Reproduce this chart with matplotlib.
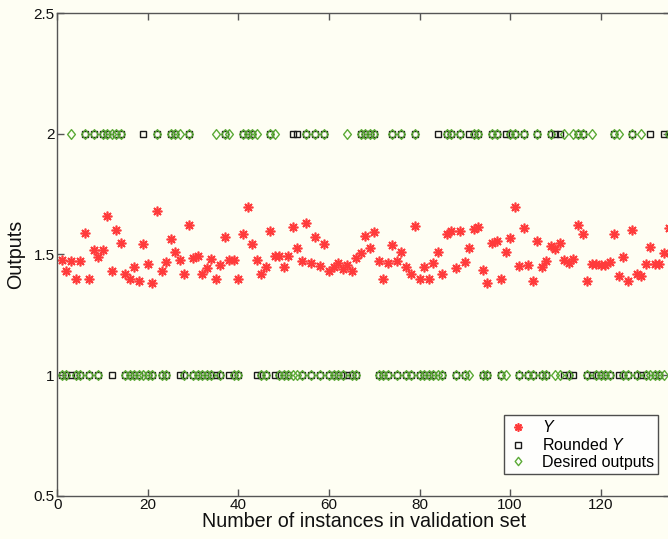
import numpy as np
import matplotlib
matplotlib.use("Agg")
import matplotlib.pyplot as plt
from matplotlib.path import Path

plt.rcParams['font.family'] = ['Liberation Sans', 'DejaVu Sans']
plt.rcParams['mathtext.fontset'] = 'custom'
plt.rcParams['mathtext.rm'] = 'Liberation Sans'
plt.rcParams['mathtext.it'] = 'Liberation Sans:italic'

# Network outputs for each validation instance (index 1..135)
y_out = [
    1.476, 1.43, 1.474, 1.40, 1.473, 1.588, 1.40, 1.52, 1.49, 1.519,
    1.66, 1.43, 1.60, 1.546, 1.42, 1.40, 1.45, 1.39, 1.544, 1.459,
    1.38, 1.68, 1.43, 1.469, 1.564, 1.512, 1.477, 1.42, 1.622, 1.485,
    1.495, 1.42, 1.445, 1.48, 1.40, 1.456, 1.572, 1.477, 1.477, 1.40,
    1.585, 1.698, 1.544, 1.477, 1.42, 1.448, 1.599, 1.495, 1.495, 1.447,
    1.495, 1.615, 1.526, 1.474, 1.632, 1.466, 1.574, 1.452, 1.542, 1.43,
    1.449, 1.466, 1.44, 1.457, 1.43, 1.487, 1.505, 1.577, 1.528, 1.592,
    1.474, 1.40, 1.466, 1.538, 1.474, 1.510, 1.447, 1.42, 1.618, 1.40,
    1.447, 1.40, 1.464, 1.51, 1.42, 1.585, 1.599, 1.443, 1.599, 1.468,
    1.526, 1.604, 1.615, 1.437, 1.38, 1.549, 1.557, 1.40, 1.509, 1.567,
    1.698, 1.452, 1.609, 1.457, 1.39, 1.557, 1.447, 1.474, 1.535, 1.522,
    1.546, 1.477, 1.464, 1.480, 1.621, 1.585, 1.39, 1.461, 1.461, 1.455,
    1.455, 1.47, 1.584, 1.41, 1.488, 1.39, 1.602, 1.42, 1.41, 1.461,
    1.530, 1.461, 1.461, 1.505, 1.609,
]

# Target class of each instance
desired = [
    1, 1, 2, 1, 1, 2, 1, 2, 1, 2,
    2, 2, 2, 2, 1, 1, 1, 1, 1, 1,
    1, 2, 1, 1, 2, 2, 2, 1, 2, 1,
    1, 1, 1, 1, 2, 1, 2, 2, 1, 1,
    2, 2, 2, 2, 1, 1, 2, 2, 1, 1,
    1, 1, 1, 1, 2, 1, 2, 1, 2, 1,
    1, 1, 1, 2, 1, 1, 2, 2, 2, 2,
    1, 1, 1, 2, 1, 2, 1, 1, 2, 1,
    1, 1, 1, 1, 1, 2, 2, 1, 2, 1,
    1, 2, 2, 1, 1, 2, 2, 1, 1, 2,
    2, 1, 2, 1, 1, 2, 1, 1, 2, 1,
    1, 2, 1, 2, 2, 2, 1, 2, 1, 1,
    1, 1, 2, 2, 1, 1, 2, 1, 2, 1,
    1, 1, 1, 1, 2,
]

idx = np.arange(1, len(y_out) + 1)
y_arr = np.array(y_out)
rounded = np.where(y_arr >= 1.5, 2, 1)

bg = '#FEFEF3'
fig = plt.figure(figsize=(6.68, 5.39), dpi=100, facecolor=bg)
# axes run slightly past the right edge of the canvas
ax = fig.add_axes([57.4 / 668, 43.3 / 539, 612.5 / 668, 482.4 / 539])
ax.set_facecolor(bg)

asterisk = (8, 2, 0)
# slightly tall open diamond
diamond = Path([(0, 1), (0.8, 0), (0, -1), (-0.8, 0), (0, 1)],
               [Path.MOVETO, Path.LINETO, Path.LINETO, Path.LINETO,
                Path.CLOSEPOLY])

ax.plot(idx, y_arr, linestyle='none', marker=asterisk, markersize=7.0,
        markeredgewidth=1.2, color='#FF3B3B', markeredgecolor='#FF3B3B',
        label='$Y$')
ax.plot(idx, rounded, linestyle='none', marker='s', markersize=4.6,
        markerfacecolor='none', markeredgecolor='#1a1a1a',
        markeredgewidth=1.0, label='Rounded $Y$')
ax.plot(idx, desired, linestyle='none', marker=diamond, markersize=7.0,
        markerfacecolor='none', markeredgecolor='#5BAA36',
        markeredgewidth=1.0, label='Desired outputs')

ax.set_xlim(0, 135.3)
ax.set_ylim(0.5, 2.5)
ax.set_xticks([0, 20, 40, 60, 80, 100, 120])
ax.set_yticks([0.5, 1, 1.5, 2, 2.5])
ax.set_yticklabels(['0.5', '1', '1.5', '2', '2.5'])

for sp in ax.spines.values():
    sp.set_color('#555555')
    sp.set_linewidth(1.0)
ax.tick_params(direction='in', length=5, width=1.0, color='#555555',
               labelsize=11, top=True, right=True, pad=2,
               labelcolor='#111111')

ax.set_xlabel('Number of instances in validation set', fontsize=14.2,
              labelpad=0, color='#111111')
ax.set_ylabel('Outputs', fontsize=14.2, labelpad=6, color='#111111')

leg = ax.legend(loc='lower right', bbox_to_anchor=(658 / 668, 1 - 474 / 539),
                bbox_transform=fig.transFigure, fontsize=11.5,
                frameon=True, fancybox=False, handlelength=1.2,
                handletextpad=0.9, borderpad=0.25, labelspacing=0.12,
                borderaxespad=0.0, markerscale=0.85)
leg.get_frame().set_edgecolor('#222222')
leg.get_frame().set_linewidth(1.0)
leg.get_frame().set_facecolor('white')

fig.savefig('out.png', dpi=100, facecolor=bg)
